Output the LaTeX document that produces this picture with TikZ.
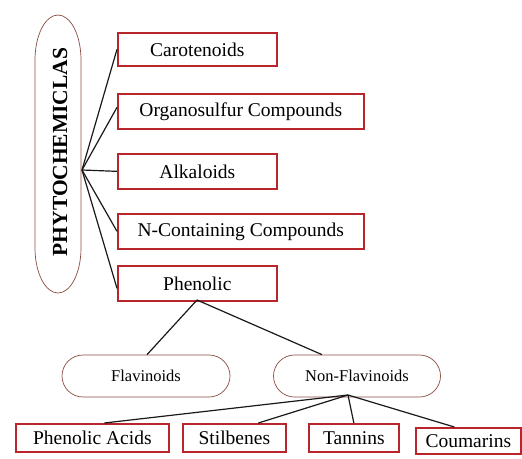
\documentclass[tikz,border=0pt]{standalone}
\usepackage{fontspec}
\setmainfont{Liberation Serif}
\usetikzlibrary{shapes.geometric,shapes.misc}
\definecolor{boxred}{HTML}{B8262B}
\definecolor{ovalc}{HTML}{8A4A40}
\begin{document}
\begin{tikzpicture}[x=1pt,y=-1pt,
  catbox/.style={draw=boxred,line width=1.7pt,inner sep=0pt,anchor=north west,font=\fontsize{19.5}{21}\selectfont},
  oval/.style={draw=ovalc,line width=0.7pt,rounded rectangle,inner sep=0pt,font=\fontsize{16.5}{18}\selectfont},
  link/.style={draw=black!90,line width=1.2pt}]
\useasboundingbox (0,0) rectangle (522,458);
\draw[draw=ovalc,line width=0.7pt] (35,60) -- (35,248) arc[start angle=180,end angle=360,x radius=23pt,y radius=45pt]
  -- (81,60) arc[start angle=0,end angle=180,x radius=23pt,y radius=45pt] -- cycle;
\node[rotate=90,font=\bfseries\fontsize{21.5}{23}\selectfont] (phyt) at (60,152) {PHYTOCHEMICLAS};
\coordinate (hub) at (82,170);
\node[catbox,minimum width=159pt,minimum height=33pt] (car) at (117,32) {Carotenoids};
\node[catbox,minimum width=246pt,minimum height=35pt] (org) at (117,93) {Organosulfur Compounds};
\node[catbox,minimum width=159pt,minimum height=35pt] (alk) at (117,153) {Alkaloids};
\node[catbox,minimum width=246pt,minimum height=35pt] (nco) at (117,213) {N-Containing Compounds};
\node[catbox,minimum width=159pt,minimum height=35pt] (phe) at (117,265) {Phenolic};
\draw[link] (hub) -- (car.west);
\draw[link] (hub) -- ([yshift=4pt]org.west);
\draw[link] (hub) -- (alk.west);
\draw[link] (hub) -- (nco.west);
\draw[link] (hub) -- ([yshift=-5pt]phe.west);
\node[oval,minimum width=168pt,minimum height=42pt] (fla) at (146,376) {Flavinoids};
\node[oval,minimum width=167pt,minimum height=42pt] (nfl) at (357,376) {Non-Flavinoids};
\coordinate (phb) at (197,300);
\coordinate (nhub) at (348,395);
\draw[link] (phb) -- ([xshift=1pt]fla.north);
\draw[link] (phb) -- ([xshift=-35pt]nfl.north);
\node[catbox,minimum width=153pt,minimum height=28pt] (pac) at (15,423) {Phenolic Acids};
\node[catbox,minimum width=103pt,minimum height=28pt] (sti) at (182,423) {Stilbenes};
\node[catbox,minimum width=90pt,minimum height=28pt] (tan) at (308,423) {Tannins};
\node[catbox,minimum width=105pt,minimum height=26pt] (cou) at (415,427) {Coumarins};
\draw[link] (nhub) -- ([xshift=12pt]pac.north);
\draw[link] (nhub) -- ([xshift=24pt]sti.north);
\draw[link] (nhub) -- (tan.north);
\draw[link] (nhub) -- ([xshift=-14pt]cou.north);
\end{tikzpicture}
\end{document}
